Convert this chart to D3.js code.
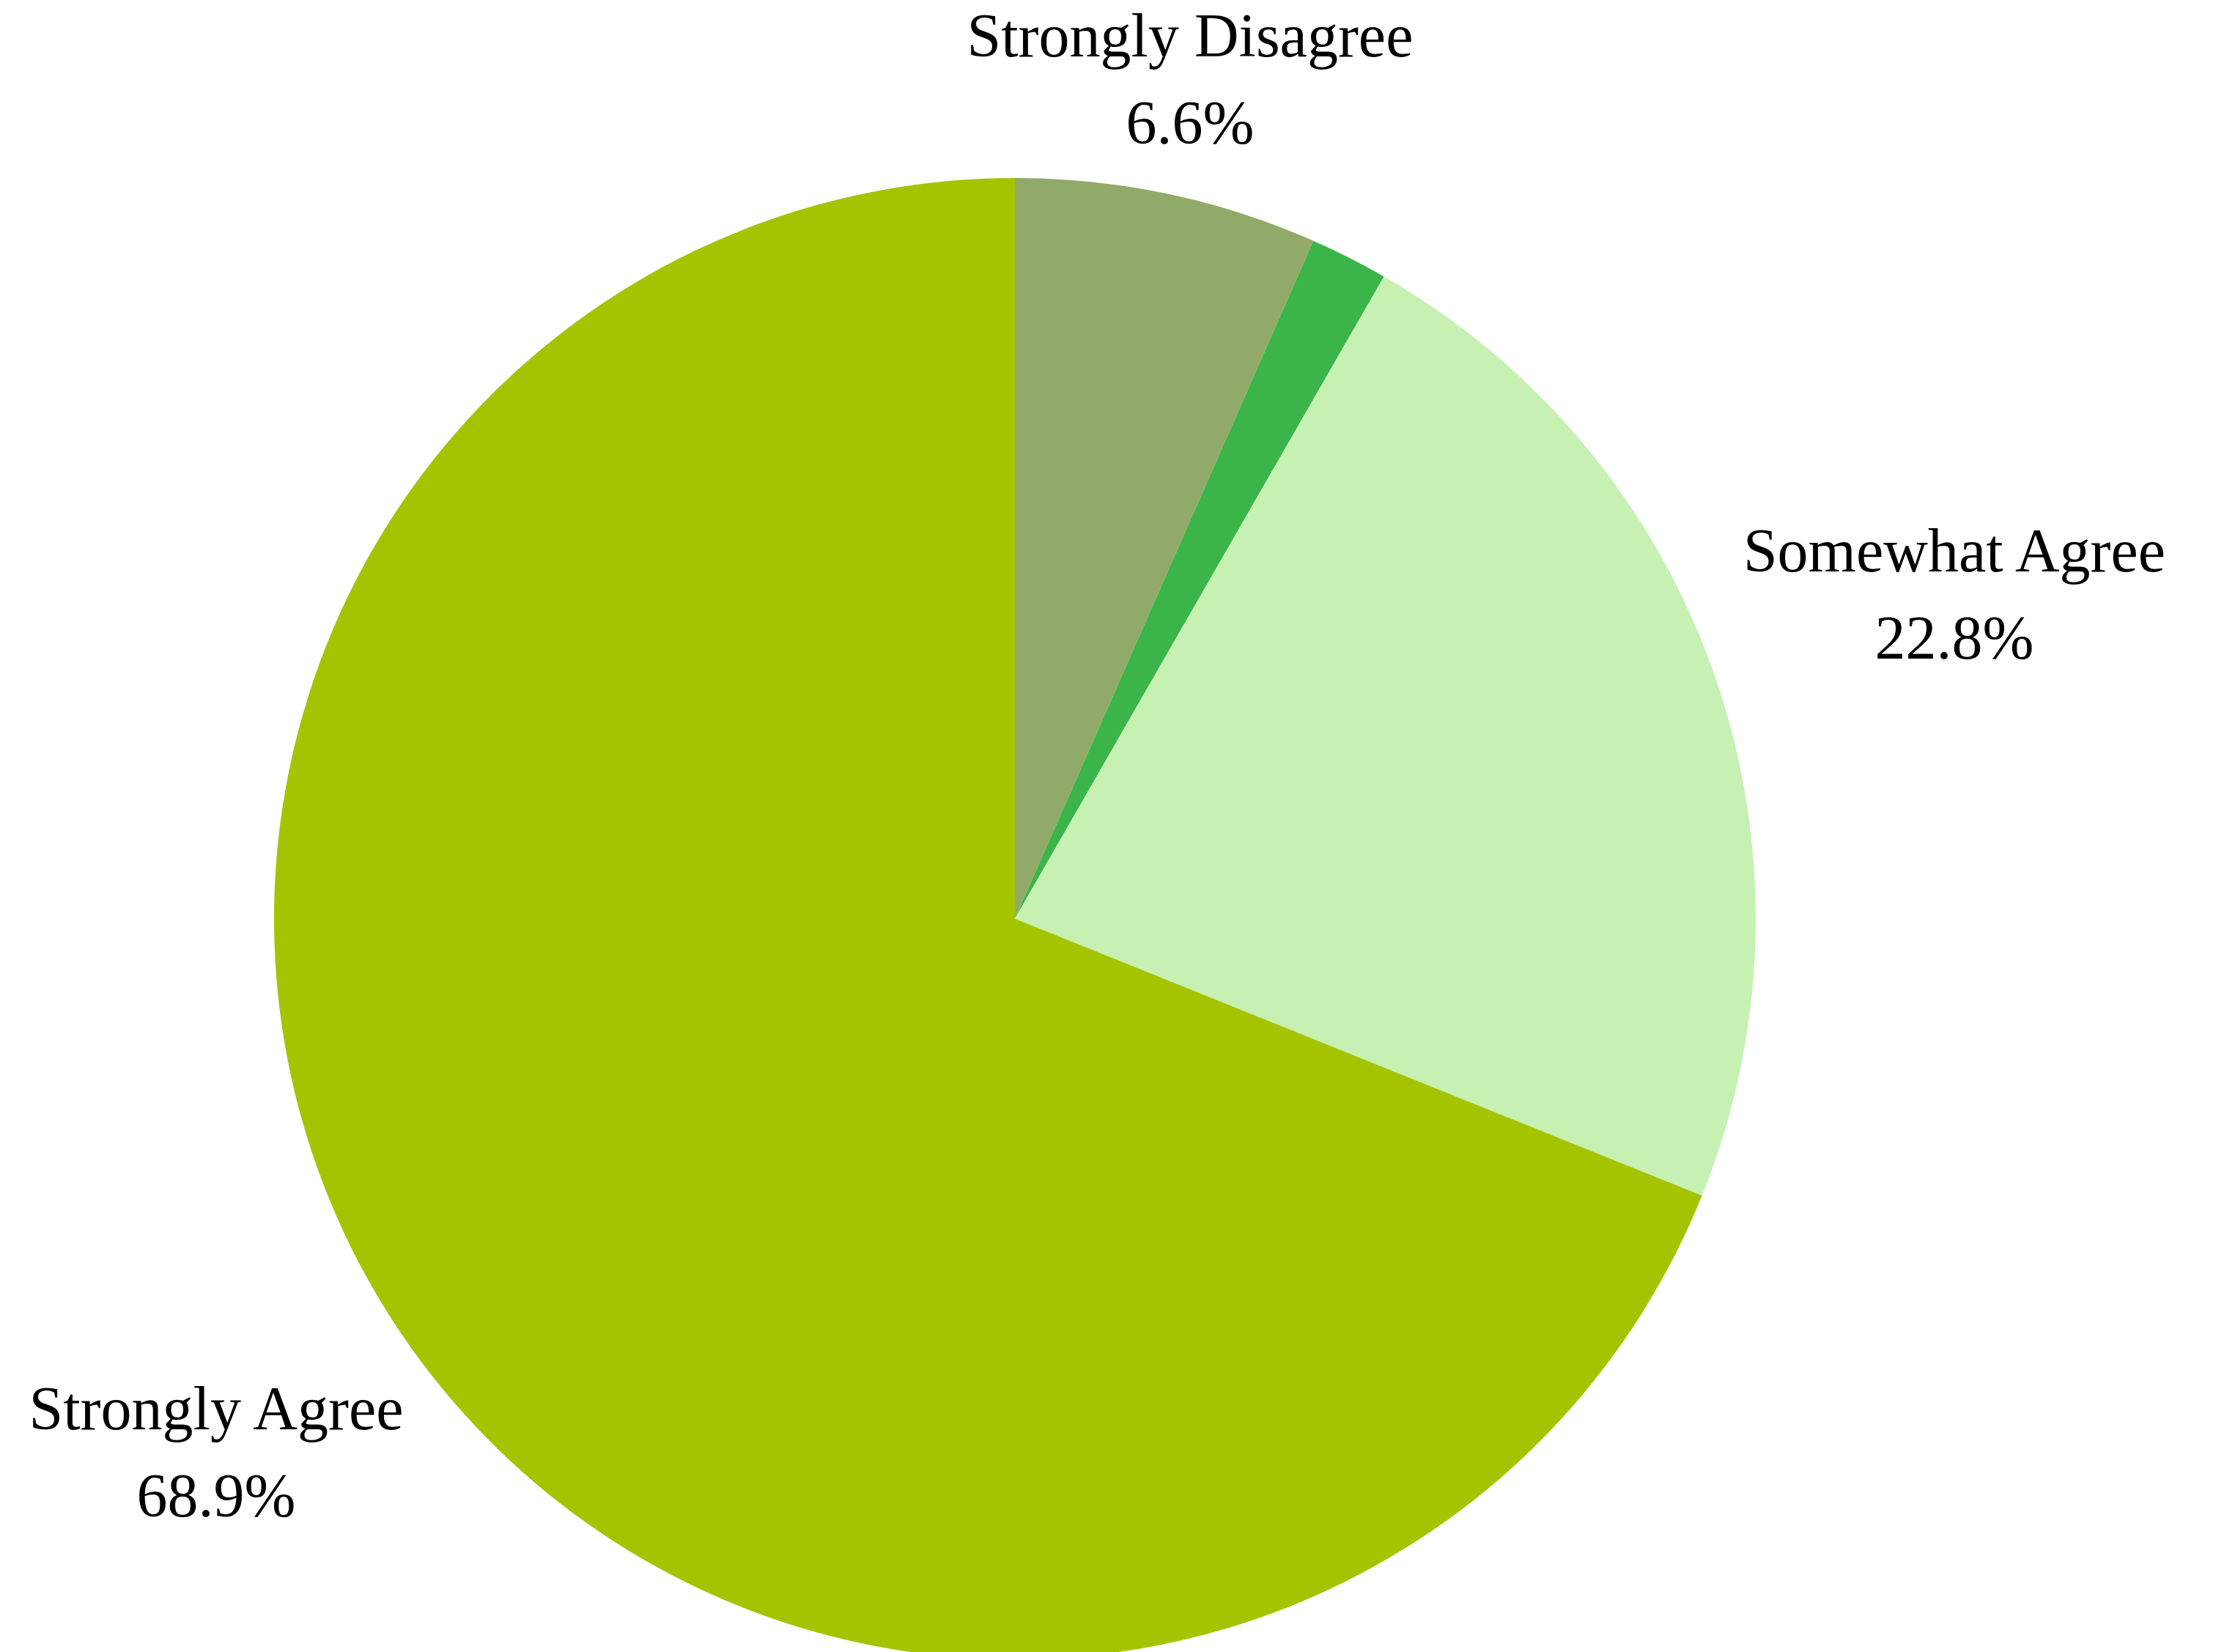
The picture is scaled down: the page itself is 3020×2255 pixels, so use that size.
<!DOCTYPE html>
<html>
<head>
<meta charset="utf-8">
<script src="https://cdn.jsdelivr.net/npm/d3@7"></script>
<style>
  html, body { margin: 0; padding: 0; background: #ffffff; }
  svg { display: block; }
</style>
</head>
<body>
<svg id="chart" width="3020" height="2255"></svg>
<script>
// ---- data ----
const categories = ["Strongly Disagree", "Somewhat Disagree", "Somewhat Agree", "Strongly Agree"];
const values = [6.6, 1.7, 22.8, 68.9];
const colors = ["#92aa69", "#3bb54a", "#c6f1b3", "#a5c400"];
const showLabel = [true, false, true, true];

// ---- layout ----
const W = 3020, H = 2255;
const cx = 1385, cy = 1254, R = 1011;
const fontSize = 84, lineGap = 119;
// label block anchor (first-line baseline) per category
const labelAnchors = {
  "Strongly Disagree": [1624, 77],
  "Somewhat Agree": [2667, 780],
  "Strongly Agree": [295, 1951]
};

const svg = d3.select("#chart");
const g = svg.append("g").attr("transform", `translate(${cx},${cy})`);

const data = categories.map((c, i) => ({ cat: c, value: values[i], color: colors[i], label: showLabel[i] }));

const pie = d3.pie().sort(null).value(d => d.value);
const arc = d3.arc().innerRadius(0).outerRadius(R);
const arcs = pie(data);

g.selectAll("path.slice")
  .data(arcs)
  .join("path")
  .attr("class", "slice")
  .attr("d", arc)
  .attr("fill", d => d.data.color);

const fmt = v => v.toFixed(1) + "%";

const labels = svg.selectAll("g.label")
  .data(arcs.filter(d => d.data.label))
  .join("g")
  .attr("class", "label")
  .attr("transform", d => `translate(${labelAnchors[d.data.cat][0]},${labelAnchors[d.data.cat][1]})`);

labels.append("text")
  .attr("text-anchor", "middle")
  .attr("font-family", "'Liberation Serif', 'DejaVu Serif', serif")
  .attr("font-size", fontSize)
  .attr("fill", "#000")
  .text(d => d.data.cat);

labels.append("text")
  .attr("text-anchor", "middle")
  .attr("y", lineGap)
  .attr("font-family", "'Liberation Serif', 'DejaVu Serif', serif")
  .attr("font-size", fontSize)
  .attr("fill", "#000")
  .text(d => fmt(d.data.value));
</script>
</body>
</html>
